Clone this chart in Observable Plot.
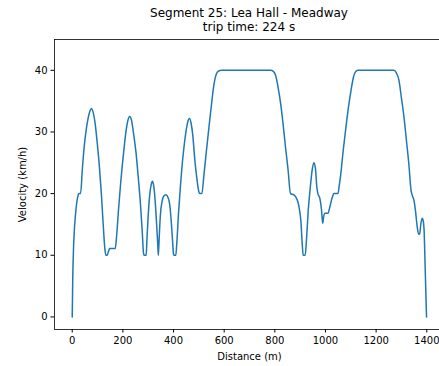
<!DOCTYPE html>
<html><head><meta charset="utf-8">
<script src="https://cdn.jsdelivr.net/npm/d3@7"></script>
<script src="https://cdn.jsdelivr.net/npm/@observablehq/plot@0.6"></script>
<style>
body{margin:0;background:#fff;}
#wrap{position:relative;width:439px;height:366px;overflow:hidden;font-family:"DejaVu Sans",sans-serif;background:#fff;}
.t{position:absolute;left:0;width:498px;text-align:center;font-size:12px;line-height:14px;color:#000;white-space:nowrap;}
#chart{position:absolute;top:34px;left:0;width:445px;}
</style></head><body>
<div id="wrap">
<div class="t" style="top:6px">Segment 25: Lea Hall - Meadway</div>
<div class="t" style="top:20px">trip time: 224 s</div>
<div id="chart"></div>
</div>
<script>
const distance = [0,2,5,9,15,22,26,33,40,47,55,63,70,76,82,90,99,107,115,123,129,133,138,143,148,160,170,175,183,191,198,205,212,220,227,234,243,252,261,270,277,281,284,292,295,300,306,312,317,322,328,334,338,340,343,348,355,362,370,378,385,391,396,400,402,409,413,420,428,436,444,452,458,463,469,476,484,492,500,503,512,520,530,540,550,560,568,578,590,700,783,795,803,813,823,832,842,852,862,875,882,890,897,903,908,912,920,925,932,940,947,954,960,966,970,978,984,989,993,998,1010,1018,1027,1033,1049,1055,1060,1070,1080,1090,1100,1110,1118,1128,1270,1280,1290,1300,1310,1320,1329,1338,1342,1350,1356,1362,1368,1372,1377,1382,1386,1390,1393,1396,1399];
const velocity = [0,6,11,14.5,17.5,19.5,20,20,24,27.5,30.3,32.3,33.4,33.8,33.3,31.5,28.1,24.5,20,14.5,11,10,10,10.6,11.1,11.1,11.1,13,17.5,21.6,24.7,27.5,30,31.9,32.5,31.9,29.5,26.6,22.5,18,13.5,10.5,10,10,12.5,16.5,19.8,21.5,22,21.2,18.5,14.5,11.5,10,12.5,16.5,18.8,19.6,19.8,19.4,18.2,15.5,12.5,10.2,10,10,12,17,21.6,25.5,28.5,30.8,31.9,32.2,31.5,29.5,25.5,22.5,20.3,20,20,23,27,30.8,34.5,37.8,39.3,39.9,40,40,40,39.8,39.2,37.2,34.6,31.5,27.6,24,20,19.8,19.5,18.8,17.5,15.5,12,10,10,12.5,17.3,21,23.7,25,24.2,21,20,19.2,17.5,15.2,16.3,16.8,16.8,18,19.4,20,20,21.5,23,27,30.5,33.8,36.5,38.8,39.7,40,40,39.6,38.4,35.5,32.4,28.5,24.9,20.5,19.8,18.8,17,14.7,13.4,13.5,15.2,16,15.6,13.5,9,4.5,0];
const xTicks = [0,200,400,600,800,1000,1200,1400];
const yTicks = [0,10,20,30,40];

const data = distance.map((d,i)=>({d, v: velocity[i]}));
const chart = Plot.plot({
  width:445, height:332, marginLeft:54, marginRight:1, marginTop:5, marginBottom:37,
  style:{fontFamily:"DejaVu Sans", fontSize:"10px", color:"#000", background:"#fff", overflow:"visible"},
  x:{domain:[-70,1470]},
  y:{domain:[-2.04,45]},
  marks:[
    Plot.line(data,{x:"d",y:"v",stroke:"#1f77b4",strokeWidth:1.5,curve:"monotone-x"}),
    Plot.frame({stroke:"#000",strokeWidth:0.8}),
    Plot.axisX({ticks:xTicks,tickFormat:d=>String(d),tickSize:3.5,tickPadding:3.5,label:"Distance (m)",labelAnchor:"center",labelArrow:"none",labelOffset:30}),
    Plot.axisY({ticks:yTicks,tickFormat:d=>String(d),tickSize:3.5,tickPadding:3.5,label:"Velocity (km/h)",labelAnchor:"center",labelArrow:"none",labelOffset:36})
  ]
});
chart.style.maxWidth="none";
document.getElementById("chart").appendChild(chart);
</script>
</body></html>
